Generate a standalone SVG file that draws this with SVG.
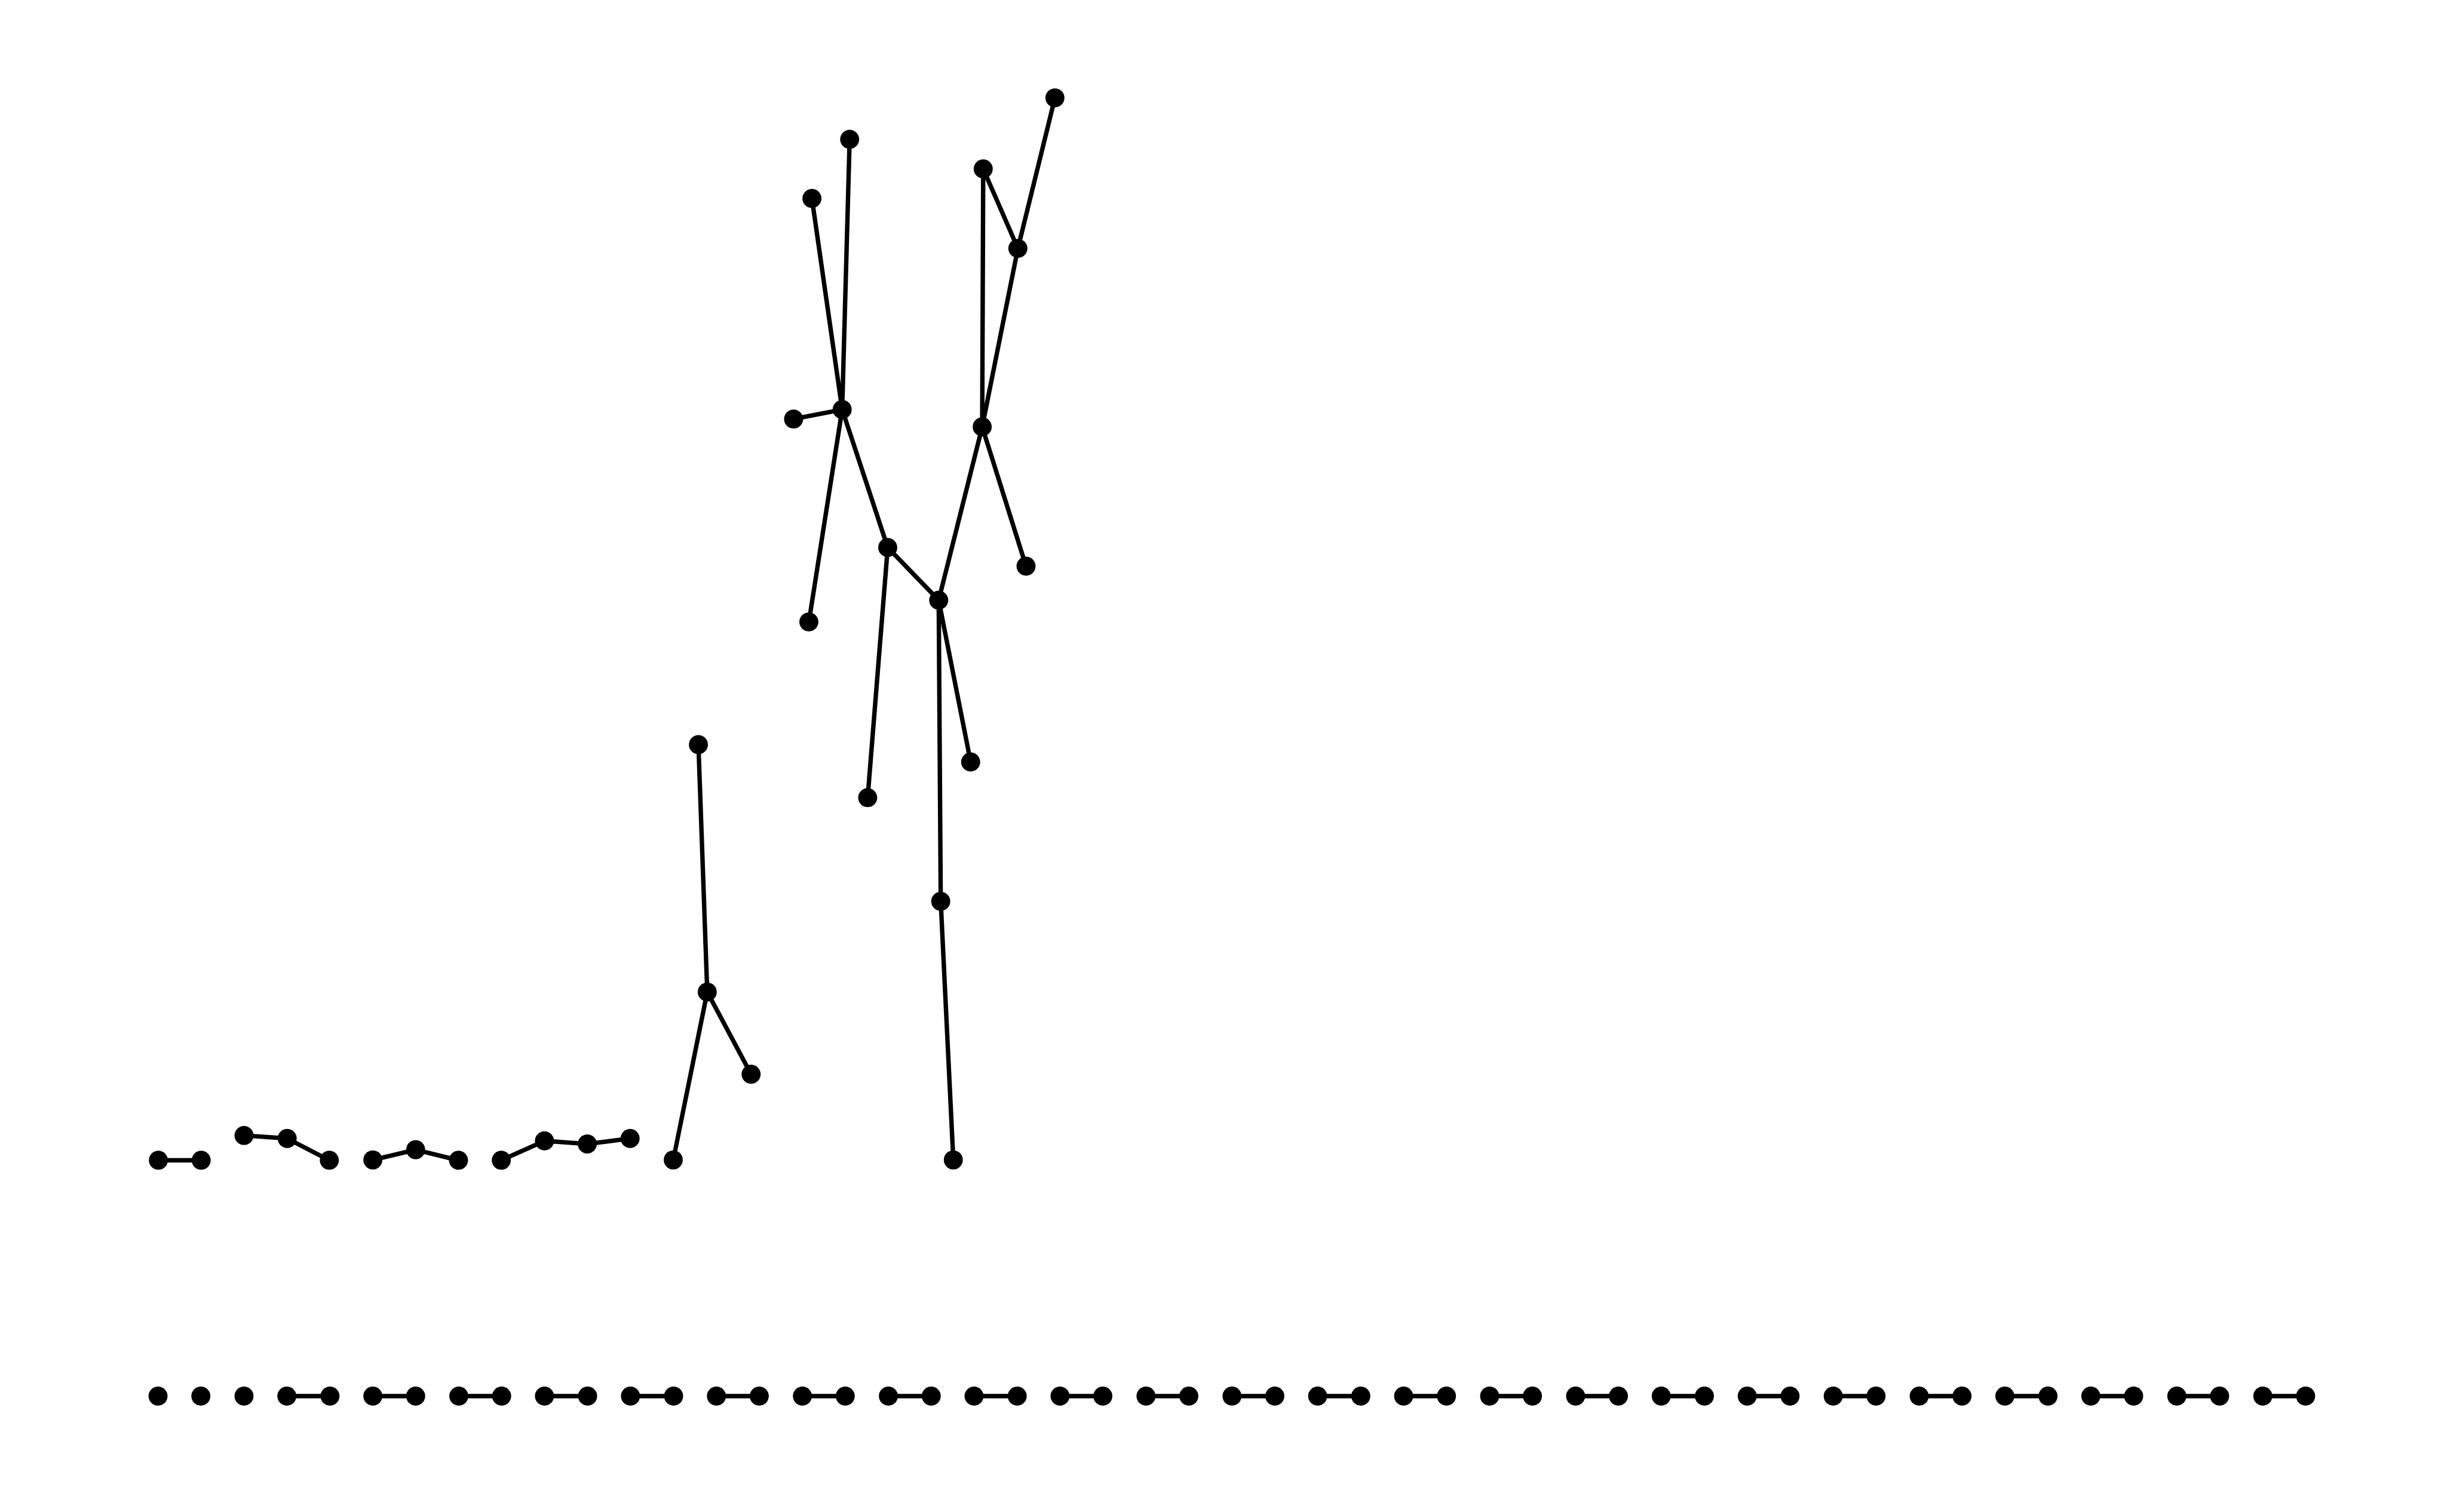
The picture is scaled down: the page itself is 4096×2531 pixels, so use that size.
<svg xmlns="http://www.w3.org/2000/svg" width="4096" height="2531" viewBox="0 0 4096 2531">
<style>
.n{fill:#000}
.e{stroke:#000;stroke-width:13;fill:none}
</style>
<rect width="4096" height="2531" fill="#fff"/>
<g transform="scale(0.568889)">
<g id="connectors" class="e">
<line x1="466" y1="3414" x2="592" y2="3414"/>
<line x1="718" y1="3341" x2="845" y2="3350"/>
<line x1="845" y1="3350" x2="969" y2="3414"/>
<line x1="1097" y1="3413" x2="1223" y2="3383"/>
<line x1="1223" y1="3383" x2="1349" y2="3414"/>
<line x1="1475" y1="3414" x2="1602" y2="3357"/>
<line x1="1602" y1="3357" x2="1728" y2="3366"/>
<line x1="1728" y1="3366" x2="1854" y2="3350"/>
<line x1="2055" y1="2191" x2="2081" y2="2919"/>
<line x1="2081" y1="2919" x2="1981" y2="3413"/>
<line x1="2081" y1="2919" x2="2210" y2="3161"/>
<line x1="2478" y1="1205" x2="2500" y2="410"/>
<line x1="2478" y1="1205" x2="2389" y2="584"/>
<line x1="2478" y1="1205" x2="2335" y2="1233"/>
<line x1="2478" y1="1205" x2="2380" y2="1830"/>
<line x1="2478" y1="1205" x2="2612" y2="1611"/>
<line x1="2612" y1="1611" x2="2553" y2="2347"/>
<line x1="2612" y1="1611" x2="2762" y2="1766"/>
<line x1="2762" y1="1766" x2="2890" y2="1256"/>
<line x1="2762" y1="1766" x2="2856" y2="2242"/>
<line x1="2762" y1="1766" x2="2768" y2="2652"/>
<line x1="2768" y1="2652" x2="2805" y2="3413"/>
<line x1="2890" y1="1256" x2="2893" y2="497"/>
<line x1="2890" y1="1256" x2="2995" y2="731"/>
<line x1="2890" y1="1256" x2="3019" y2="1666"/>
<line x1="2893" y1="497" x2="2995" y2="731"/>
<line x1="2995" y1="731" x2="3104" y2="288"/>
<line x1="844" y1="4108" x2="971" y2="4108"/>
<line x1="1097" y1="4108" x2="1223" y2="4108"/>
<line x1="1350" y1="4108" x2="1476" y2="4108"/>
<line x1="1602" y1="4108" x2="1729" y2="4108"/>
<line x1="1855" y1="4108" x2="1982" y2="4108"/>
<line x1="2108" y1="4108" x2="2234" y2="4108"/>
<line x1="2361" y1="4108" x2="2487" y2="4108"/>
<line x1="2614" y1="4108" x2="2740" y2="4108"/>
<line x1="2866" y1="4108" x2="2993" y2="4108"/>
<line x1="3119" y1="4108" x2="3245" y2="4108"/>
<line x1="3372" y1="4108" x2="3498" y2="4108"/>
<line x1="3625" y1="4108" x2="3751" y2="4108"/>
<line x1="3877" y1="4108" x2="4004" y2="4108"/>
<line x1="4130" y1="4108" x2="4256" y2="4108"/>
<line x1="4383" y1="4108" x2="4509" y2="4108"/>
<line x1="4636" y1="4108" x2="4762" y2="4108"/>
<line x1="4888" y1="4108" x2="5015" y2="4108"/>
<line x1="5141" y1="4108" x2="5267" y2="4108"/>
<line x1="5394" y1="4108" x2="5520" y2="4108"/>
<line x1="5647" y1="4108" x2="5773" y2="4108"/>
<line x1="5899" y1="4108" x2="6026" y2="4108"/>
<line x1="6152" y1="4108" x2="6278" y2="4108"/>
<line x1="6405" y1="4108" x2="6531" y2="4108"/>
<line x1="6658" y1="4108" x2="6784" y2="4108"/>
</g>
<g id="nodes" class="n">
<circle id="a1" cx="466" cy="3414" r="28"/>
<circle id="a2" cx="592" cy="3414" r="28"/>
<circle id="b1" cx="718" cy="3341" r="28"/>
<circle id="b2" cx="845" cy="3350" r="28"/>
<circle id="b3" cx="969" cy="3414" r="28"/>
<circle id="c1" cx="1097" cy="3413" r="28"/>
<circle id="c2" cx="1223" cy="3383" r="28"/>
<circle id="c3" cx="1349" cy="3414" r="28"/>
<circle id="d1" cx="1475" cy="3414" r="28"/>
<circle id="d2" cx="1602" cy="3357" r="28"/>
<circle id="d3" cx="1728" cy="3366" r="28"/>
<circle id="d4" cx="1854" cy="3350" r="28"/>
<circle id="e1" cx="1981" cy="3413" r="28"/>
<circle id="e2" cx="2081" cy="2919" r="28"/>
<circle id="e3" cx="2055" cy="2191" r="28"/>
<circle id="e4" cx="2210" cy="3161" r="28"/>
<circle id="j" cx="2478" cy="1205" r="28"/>
<circle id="r" cx="2500" cy="410" r="28"/>
<circle id="q" cx="2389" cy="584" r="28"/>
<circle id="k" cx="2335" cy="1233" r="28"/>
<circle id="l" cx="2380" cy="1830" r="28"/>
<circle id="m" cx="2612" cy="1611" r="28"/>
<circle id="f" cx="2553" cy="2347" r="28"/>
<circle id="nn" cx="2762" cy="1766" r="28"/>
<circle id="g" cx="2856" cy="2242" r="28"/>
<circle id="h" cx="2768" cy="2652" r="28"/>
<circle id="i" cx="2805" cy="3413" r="28"/>
<circle id="o" cx="2890" cy="1256" r="28"/>
<circle id="p" cx="3019" cy="1666" r="28"/>
<circle id="s" cx="2893" cy="497" r="28"/>
<circle id="t" cx="2995" cy="731" r="28"/>
<circle id="u" cx="3104" cy="288" r="28"/>
<circle id="z0" cx="465" cy="4108" r="28"/>
<circle id="z1" cx="591" cy="4108" r="28"/>
<circle id="z2" cx="718" cy="4108" r="28"/>
<circle id="z3" cx="844" cy="4108" r="28"/>
<circle id="z4" cx="971" cy="4108" r="28"/>
<circle id="z5" cx="1097" cy="4108" r="28"/>
<circle id="z6" cx="1223" cy="4108" r="28"/>
<circle id="z7" cx="1350" cy="4108" r="28"/>
<circle id="z8" cx="1476" cy="4108" r="28"/>
<circle id="z9" cx="1602" cy="4108" r="28"/>
<circle id="z10" cx="1729" cy="4108" r="28"/>
<circle id="z11" cx="1855" cy="4108" r="28"/>
<circle id="z12" cx="1982" cy="4108" r="28"/>
<circle id="z13" cx="2108" cy="4108" r="28"/>
<circle id="z14" cx="2234" cy="4108" r="28"/>
<circle id="z15" cx="2361" cy="4108" r="28"/>
<circle id="z16" cx="2487" cy="4108" r="28"/>
<circle id="z17" cx="2614" cy="4108" r="28"/>
<circle id="z18" cx="2740" cy="4108" r="28"/>
<circle id="z19" cx="2866" cy="4108" r="28"/>
<circle id="z20" cx="2993" cy="4108" r="28"/>
<circle id="z21" cx="3119" cy="4108" r="28"/>
<circle id="z22" cx="3245" cy="4108" r="28"/>
<circle id="z23" cx="3372" cy="4108" r="28"/>
<circle id="z24" cx="3498" cy="4108" r="28"/>
<circle id="z25" cx="3625" cy="4108" r="28"/>
<circle id="z26" cx="3751" cy="4108" r="28"/>
<circle id="z27" cx="3877" cy="4108" r="28"/>
<circle id="z28" cx="4004" cy="4108" r="28"/>
<circle id="z29" cx="4130" cy="4108" r="28"/>
<circle id="z30" cx="4256" cy="4108" r="28"/>
<circle id="z31" cx="4383" cy="4108" r="28"/>
<circle id="z32" cx="4509" cy="4108" r="28"/>
<circle id="z33" cx="4636" cy="4108" r="28"/>
<circle id="z34" cx="4762" cy="4108" r="28"/>
<circle id="z35" cx="4888" cy="4108" r="28"/>
<circle id="z36" cx="5015" cy="4108" r="28"/>
<circle id="z37" cx="5141" cy="4108" r="28"/>
<circle id="z38" cx="5267" cy="4108" r="28"/>
<circle id="z39" cx="5394" cy="4108" r="28"/>
<circle id="z40" cx="5520" cy="4108" r="28"/>
<circle id="z41" cx="5647" cy="4108" r="28"/>
<circle id="z42" cx="5773" cy="4108" r="28"/>
<circle id="z43" cx="5899" cy="4108" r="28"/>
<circle id="z44" cx="6026" cy="4108" r="28"/>
<circle id="z45" cx="6152" cy="4108" r="28"/>
<circle id="z46" cx="6278" cy="4108" r="28"/>
<circle id="z47" cx="6405" cy="4108" r="28"/>
<circle id="z48" cx="6531" cy="4108" r="28"/>
<circle id="z49" cx="6658" cy="4108" r="28"/>
<circle id="z50" cx="6784" cy="4108" r="28"/>
</g>
</g>
</svg>
